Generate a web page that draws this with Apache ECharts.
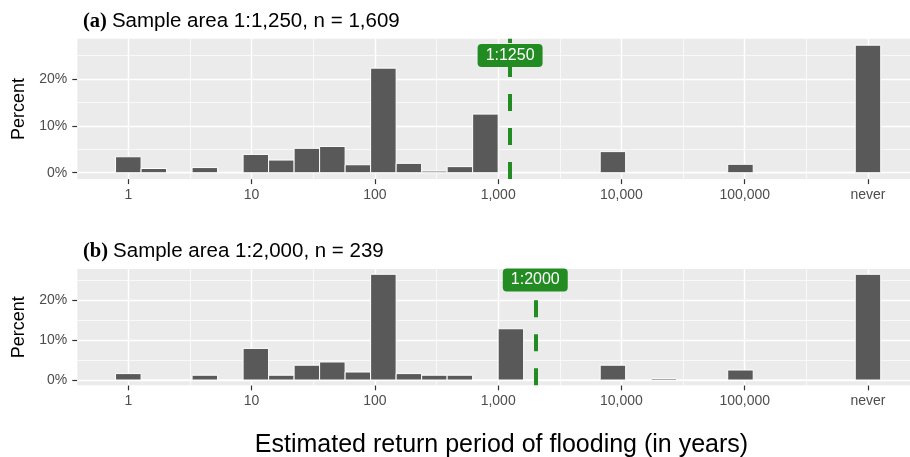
<!DOCTYPE html>
<html><head><meta charset="utf-8">
<script src="https://cdn.jsdelivr.net/npm/echarts@6/dist/echarts.min.js"></script>
<style>html,body{margin:0;padding:0;background:#fff}#c{width:910px;height:457px}</style>
</head><body><div id="c"></div>
<script>
// ---- data (histogram of log10 return period, 30 bins from 1 year to "never" = 10^6) ----
const binCount = 30;
const logMin = 0, logMax = 6;
const tickLabels = ['1', '10', '100', '1,000', '10,000', '100,000', 'never'];
const tickLogs = [0, 1, 2, 3, 4, 5, 6];
const minorLogs = [0.5, 1.5, 2.5, 3.5, 4.5, 5.5];
const yTicks = [0, 10, 20];
const yMinor = [5, 15, 25];
const pctA = [3.4, 0.9, 0, 1.1, 0, 3.9, 2.7, 5.2, 5.6, 1.7, 22.3, 2.0, 0.35, 1.3, 12.5,
              0, 0, 0, 0, 4.5, 0, 0, 0, 0, 1.8, 0, 0, 0, 0, 27.2];
const pctB = [1.6, 0, 0, 1.2, 0, 7.9, 1.2, 3.7, 4.5, 2.0, 26.4, 1.6, 1.2, 1.2, 0,
              12.8, 0, 0, 0, 3.7, 0, 0.4, 0, 0, 2.5, 0, 0, 0, 0, 26.4];
const refA = 1250, refB = 2000;
const titleA = ['(a)', 'Sample area 1:1,250, n = 1,609'];
const titleB = ['(b)', 'Sample area 1:2,000, n = 239'];
const xTitle = 'Estimated return period of flooding (in years)';

// ---- scales (ggplot-like expansion) ----
const binW = (logMax - logMin) / (binCount - 1);
const xLo = logMin - binW / 2, xHi = logMax + binW / 2;
const xExp = 0.05 * (xHi - xLo);
const xMin = xLo - xExp, xMax = xHi + xExp;
function yRange(arr) { const m = Math.max(...arr); return [-0.05 * m, 1.05 * m]; }
const yrA = yRange(pctA), yrB = yRange(pctB);
const toData = arr => arr.map((p, k) => [logMin + k * binW, p]);

const GREEN = '#228B22';
const FONT = 'Liberation Sans, Arial, sans-serif';

function renderBars(params, api) {
  const c = api.value(0), p = api.value(1);
  const tl = api.coord([c - binW / 2, p]);
  const br = api.coord([c + binW / 2, 0]);
  return {
    type: 'rect',
    shape: { x: tl[0], y: tl[1], width: br[0] - tl[0], height: br[1] - tl[1] },
    style: { fill: '#595959', stroke: '#ffffff', lineWidth: 1 }
  };
}

function gridLines() {
  const d = [];
  yMinor.forEach(v => d.push({ yAxis: v, lineStyle: { color: '#fff', width: 0.7, type: 'solid' } }));
  minorLogs.forEach(v => d.push({ xAxis: v, lineStyle: { color: '#fff', width: 0.7, type: 'solid' } }));
  yTicks.forEach(v => d.push({ yAxis: v, lineStyle: { color: '#fff', width: 1.4, type: 'solid' } }));
  tickLogs.forEach(v => d.push({ xAxis: v, lineStyle: { color: '#fff', width: 1.4, type: 'solid' } }));
  return d;
}

const hiddenLine = { show: true, onZero: false, lineStyle: { color: 'rgba(0,0,0,0)', width: 0 } };

function xAxisCfg(i) {
  return {
    type: 'value', gridIndex: i, min: xMin, max: xMax,
    axisLine: hiddenLine, splitLine: { show: false },
    axisTick: { show: true, customValues: tickLogs, length: 5, lineStyle: { color: '#333', width: 1.2 } },
    axisLabel: { customValues: tickLogs, formatter: v => tickLabels[tickLogs.indexOf(Math.round(v))],
      color: '#4D4D4D', fontSize: 14, fontFamily: FONT, margin: 9 }
  };
}
function yAxisCfg(i, yr) {
  return {
    type: 'value', gridIndex: i, min: yr[0], max: yr[1],
    axisLine: hiddenLine, splitLine: { show: false },
    axisTick: { show: true, customValues: yTicks, length: 5, lineStyle: { color: '#333', width: 1.2 } },
    axisLabel: { customValues: yTicks, formatter: v => Math.round(v) + '%',
      color: '#4D4D4D', fontSize: 14, fontFamily: FONT, margin: 10 },
    name: 'Percent', nameLocation: 'middle', nameGap: 48, nameRotate: 90,
    nameTextStyle: { color: '#000', fontSize: 18, fontFamily: FONT }
  };
}
function refSeries(i, yr, ref) {
  const x = Math.log10(ref);
  return {
    type: 'line', xAxisIndex: i, yAxisIndex: i, data: [], z: 5, silent: true,
    markLine: {
      z: 5, symbol: 'none', silent: true, label: { show: false },
      lineStyle: { color: GREEN, width: 4, type: [17, 17] },
      data: [[{ coord: [x, yr[0]] }, { coord: [x, yr[1]] }]]
    },
    markPoint: {
      z: 6, symbol: 'circle', symbolSize: 1, itemStyle: { color: 'rgba(0,0,0,0)' },
      label: { show: true, position: 'inside', formatter: '1:' + ref,
        backgroundColor: GREEN, color: '#fff', fontSize: 16, fontFamily: FONT,
        padding: [3, 8, 2, 8], lineHeight: 18, borderRadius: 4 },
      data: [{ coord: [x, 25] }]
    }
  };
}
function gridSeries(i) {
  return { type: 'line', xAxisIndex: i, yAxisIndex: i, data: [], z: 1, silent: true,
    markLine: { z: 1, symbol: 'none', silent: true, label: { show: false }, data: gridLines() } };
}
function titleCfg(t, top) {
  return {
    left: 78, top: top,
    text: '{a|' + t[0] + '} {b|' + t[1] + '}',
    textStyle: { fontWeight: 'normal', rich: {
      a: { fontFamily: 'Liberation Serif, Times New Roman, serif', fontWeight: 'bold', fontSize: 20.5, color: '#000' },
      b: { fontFamily: FONT, fontWeight: 'normal', fontSize: 20.5, color: '#000' } } }
  };
}

const chart = echarts.init(document.getElementById('c'), null, { renderer: 'canvas' });
chart.setOption({
  animation: false,
  backgroundColor: '#fff',
  title: [titleCfg(titleA, 6), titleCfg(titleB, 236)],
  grid: [
    { left: 77.3, top: 38.8, width: 841.7, height: 140.3, show: true, backgroundColor: '#EBEBEB', borderWidth: 0, outerBoundsMode: 'none', containLabel: false },
    { left: 77.3, top: 269, width: 841.7, height: 116.3, show: true, backgroundColor: '#EBEBEB', borderWidth: 0, outerBoundsMode: 'none', containLabel: false }
  ],
  xAxis: [xAxisCfg(0), xAxisCfg(1)],
  yAxis: [yAxisCfg(0, yrA), yAxisCfg(1, yrB)],
  graphic: [{ type: 'text', x: 501.5, y: 445, style: { text: xTitle, fontSize: 25, fontFamily: FONT, fill: '#000', align: 'center', verticalAlign: 'middle' } }],
  series: [
    gridSeries(0),
    gridSeries(1),
    { type: 'custom', xAxisIndex: 0, yAxisIndex: 0, data: toData(pctA), renderItem: renderBars, z: 3, clip: true },
    { type: 'custom', xAxisIndex: 1, yAxisIndex: 1, data: toData(pctB), renderItem: renderBars, z: 3, clip: true },
    refSeries(0, yrA, refA),
    refSeries(1, yrB, refB)
  ]
});
</script></body></html>
